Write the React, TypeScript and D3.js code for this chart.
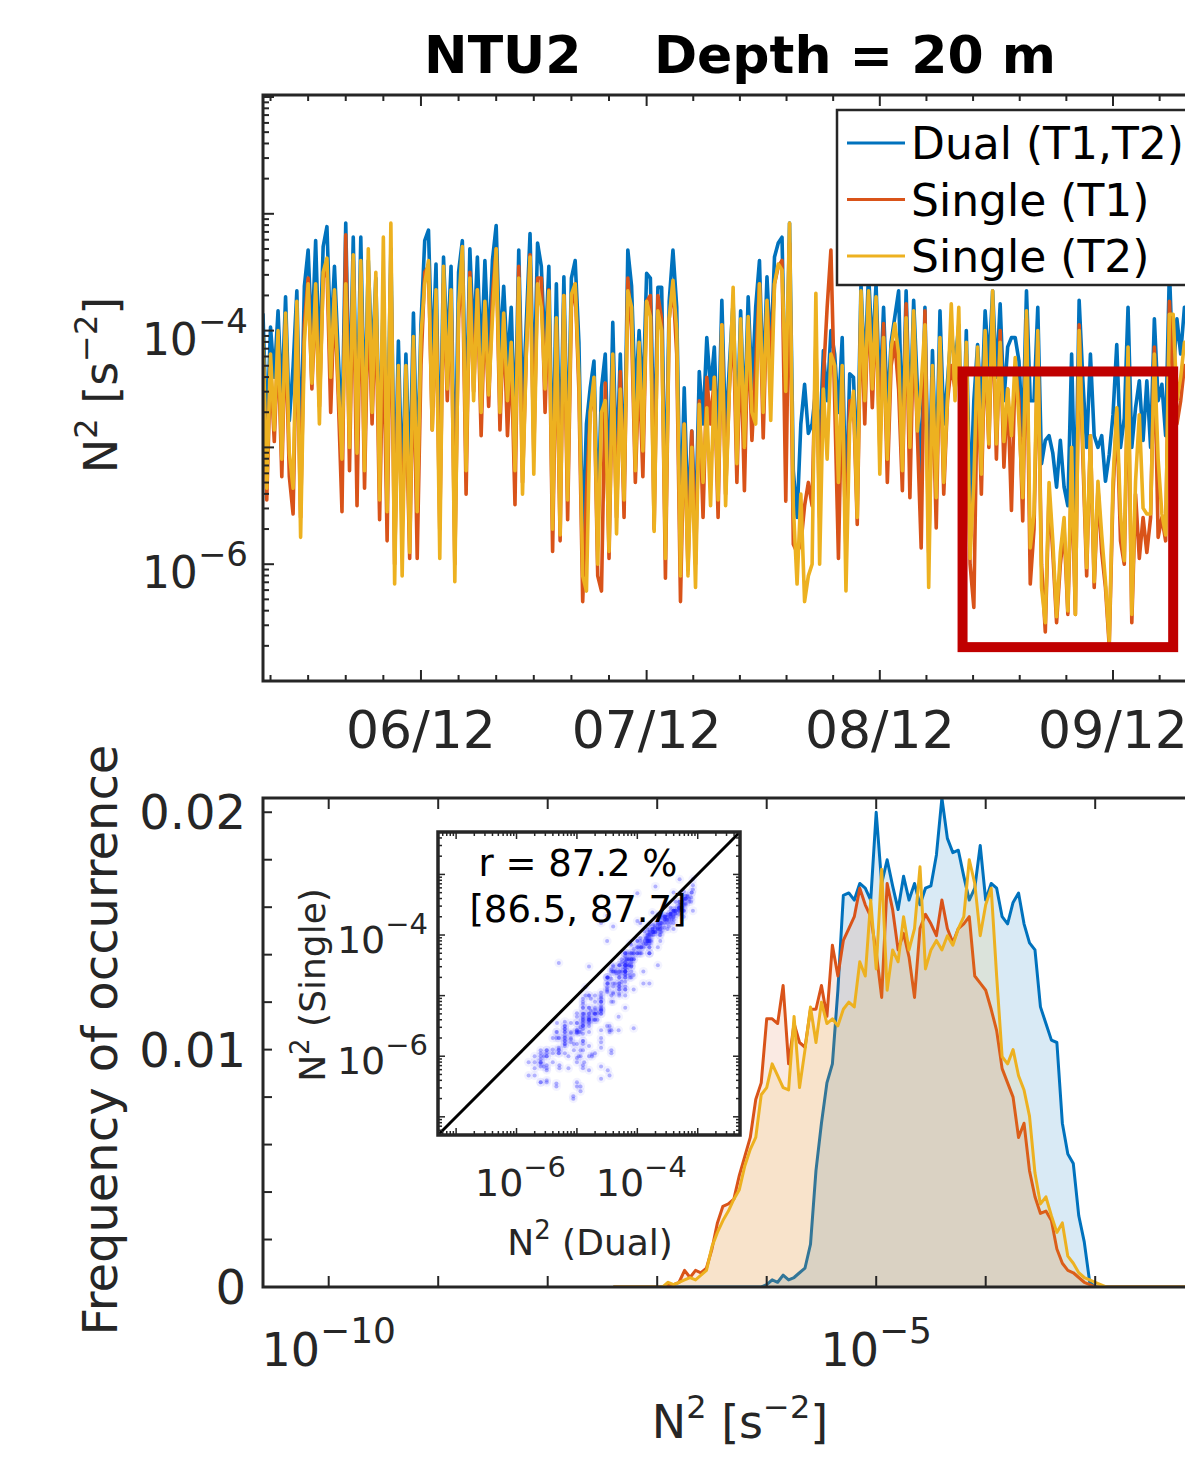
import React from 'react';
import * as d3 from 'd3';

// N^2 time series at 20 m, log10 values, one sample every 12 h from 22 May
const startTime = new Date(2012, 4, 22);
const endTime = new Date(2012, 9, 5);
const stepHours = 12;

const dualLog = [
  -3.86, -4.9, -3.97, -4.4, -3.83, -4.6, -3.71, -4.77, -4.31, -3.66, -5.1, -3.62, -3.31, -4.1, -3.23, -4.3,
  -3.28, -3.11, -4.1, -3.45, -4.2, -4.9, -3.08, -4.7, -3.2, -4.9, -3.2, -4.8, -3.4, -4.3, -3.55, -5.0,
  -3.7, -5.2, -3.3, -5.55, -4.09, -5.4, -4.2, -5.3, -3.85, -5.2, -3.95, -3.23, -3.14, -4.3, -3.43, -5.3,
  -3.37, -4.2, -3.45, -5.5, -3.5, -3.23, -4.8, -3.3, -4.1, -3.37, -4.3, -3.4, -4.2, -3.4, -3.1, -4.2,
  -3.62, -4.3, -3.8, -4.9, -3.31, -4.7, -3.94, -3.17, -4.6, -3.25, -3.45, -4.2, -3.45, -5.3, -3.6, -5.2,
  -3.54, -5.1, -3.55, -3.4, -4.1, -5.8, -4.8, -4.49, -4.26, -5.6, -4.49, -4.2, -5.4, -3.93, -5.2, -4.2,
  -5.33, -3.31, -3.62, -4.6, -4.0, -4.6, -3.51, -3.55, -5.1, -3.63, -3.63, -5.6, -3.75, -3.31, -3.8, -5.7,
  -4.49, -5.6, -4.86, -5.7, -4.35, -4.8, -4.06, -4.5, -4.14, -5.0, -3.74, -4.9, -4.3, -3.75, -4.9, -3.83,
  -4.8, -3.71, -4.5, -3.8, -3.4, -4.5, -3.54, -4.2, -3.37, -3.25, -3.2, -4.8, -3.08, -5.2, -5.6, -4.8,
  -4.46, -4.88, -4.8, -4.5, -4.97, -4.17, -4.6, -4.0, -4.2, -4.7, -4.06, -5.5, -4.37, -4.4, -5.2, -3.6,
  -4.4, -3.5, -4.2, -3.6, -4.6, -3.8, -4.7, -4.1, -3.88, -3.66, -4.9, -3.66, -4.8, -3.74, -4.5, -5.3,
  -3.8, -5.5, -4.17, -5.2, -3.83, -4.8, -4.43, -4.0, -4.29, -3.95, -5.2, -4.0, -5.5, -4.6, -4.12, -4.7,
  -3.83, -4.3, -3.66, -4.4, -3.77, -4.6, -4.14, -4.06, -4.06, -4.26, -4.9, -3.66, -4.6, -4.6, -3.8, -5.14,
  -4.94, -4.9, -5.05, -5.34, -4.94, -5.34, -5.5, -4.2, -5.6, -3.74, -4.43, -5.0, -4.2, -4.9, -5.0, -4.9,
  -5.29, -5.06, -4.72, -4.12, -5.0, -4.75, -3.8, -5.0, -4.66, -4.43, -4.94, -4.43, -5.0, -3.9, -4.6, -4.46,
  -4.9, -3.48, -4.4, -3.9, -4.2, -3.8,
];

const singleT1Log = [
  -4.15, -5.45, -4.3, -4.95, -4.1, -5.25, -3.95, -5.25, -5.57, -3.9, -5.6, -3.95, -3.55, -4.5, -3.7, -4.65,
  -3.55, -3.45, -4.7, -3.7, -4.55, -5.55, -3.18, -5.2, -3.4, -5.5, -3.5, -5.35, -3.7, -4.8, -3.75, -5.62,
  -3.95, -5.8, -3.45, -6.0, -4.4, -5.7, -4.6, -5.95, -4.15, -5.95, -4.3, -3.5, -3.45, -4.85, -3.75, -5.7,
  -3.6, -4.6, -3.7, -6.0, -3.9, -3.4, -5.4, -3.5, -4.52, -3.65, -4.9, -3.8, -4.65, -3.7, -3.3, -4.85,
  -3.9, -4.9, -4.2, -5.49, -3.45, -5.3, -4.2, -3.35, -5.05, -3.55, -3.55, -4.7, -3.65, -5.89, -3.95, -5.8,
  -3.7, -5.62, -3.8, -3.6, -4.52, -6.32, -5.4, -4.7, -4.45, -6.1, -6.23, -4.45, -5.95, -4.3, -5.6, -4.35,
  -5.6, -3.55, -4.0, -5.3, -4.3, -5.25, -3.75, -3.7, -5.7, -3.7, -3.9, -6.12, -3.9, -3.6, -4.2, -6.32,
  -4.8, -6.05, -4.86, -6.0, -4.6, -5.6, -4.4, -4.8, -4.4, -5.6, -3.95, -5.4, -4.5, -3.9, -5.3, -4.1,
  -5.37, -3.95, -4.94, -4.3, -3.6, -4.92, -3.75, -4.3, -3.6, -3.45, -3.4, -5.46, -3.25, -5.83, -5.9, -5.83,
  -5.5, -5.3, -5.5, -4.1, -5.6, -4.4, -3.8, -3.31, -4.6, -5.95, -4.4, -5.9, -4.6, -4.6, -5.66, -3.8,
  -4.8, -3.7, -4.66, -3.8, -5.0, -3.94, -5.3, -4.3, -4.1, -4.5, -5.37, -3.77, -5.43, -3.95, -4.9, -5.86,
  -3.83, -5.9, -4.4, -5.69, -4.1, -5.4, -4.6, -4.3, -4.5, -4.1, -5.7, -4.2, -6.0, -6.37, -4.3, -5.4,
  -4.1, -5.0, -3.8, -5.1, -4.0, -5.17, -4.5, -5.54, -4.3, -4.6, -5.63, -3.9, -6.17, -5.7, -4.1, -6.0,
  -6.58, -5.4, -5.9, -6.5, -6.0, -5.7, -6.43, -5.2, -6.43, -3.95, -5.1, -6.1, -4.9, -6.2, -5.35, -5.9,
  -6.2, -6.7, -5.4, -4.7, -5.8, -6.0, -4.3, -6.5, -5.4, -5.95, -5.6, -5.9, -5.6, -4.14, -5.77, -5.6,
  -5.8, -3.75, -4.5, -4.8, -4.6, -4.3,
];

const singleT2Log = [
  -4.05, -5.35, -4.2, -4.85, -4.0, -5.1, -3.85, -5.05, -5.35, -3.75, -5.77, -4.1, -3.6, -4.45, -3.6, -4.8,
  -3.5, -3.38, -4.4, -3.65, -4.45, -5.1, -3.6, -5.0, -3.35, -5.05, -3.4, -5.2, -3.3, -4.7, -3.5, -5.45,
  -3.2, -5.55, -3.08, -6.17, -4.3, -6.1, -4.3, -5.9, -4.05, -5.55, -4.05, -3.6, -3.4, -4.85, -3.65, -5.95,
  -3.45, -4.5, -3.65, -6.15, -3.8, -3.28, -5.2, -3.55, -4.6, -3.65, -4.7, -3.75, -4.55, -3.9, -3.3, -4.7,
  -3.85, -4.6, -4.1, -5.2, -3.55, -5.4, -4.2, -3.37, -5.23, -3.6, -3.8, -4.5, -3.66, -5.7, -3.89, -5.75,
  -3.7, -5.45, -3.69, -3.6, -4.4, -6.1, -6.23, -4.7, -4.4, -6.0, -4.7, -4.6, -5.89, -4.2, -5.74, -4.5,
  -5.45, -3.66, -3.8, -5.2, -4.1, -5.03, -3.75, -3.88, -5.72, -3.83, -4.0, -5.95, -3.9, -3.57, -4.0, -6.1,
  -4.8, -6.1, -5.0, -6.2, -4.63, -5.3, -4.66, -5.5, -4.4, -5.45, -3.95, -5.5, -4.5, -3.63, -5.14, -3.9,
  -5.0, -3.88, -4.7, -4.8, -3.6, -4.7, -3.74, -4.77, -3.6, -3.43, -3.48, -4.52, -3.08, -5.5, -6.17, -5.4,
  -6.32, -6.1, -6.0, -3.68, -6.0, -4.5, -5.1, -4.2, -4.3, -5.3, -4.3, -6.23, -4.8, -4.52, -5.6, -3.66,
  -4.6, -3.66, -4.5, -3.71, -5.23, -4.06, -5.1, -4.16, -3.94, -4.2, -5.2, -3.89, -5.0, -3.83, -4.86, -4.46,
  -3.95, -6.2, -4.3, -5.43, -4.06, -5.3, -4.57, -3.77, -4.6, -3.8, -5.5, -4.1, -5.95, -5.3, -4.14, -5.23,
  -4.0, -4.97, -3.66, -4.97, -4.1, -4.95, -4.5, -4.9, -4.23, -4.77, -5.43, -3.83, -5.86, -5.57, -4.0, -6.2,
  -6.5, -5.3, -5.8, -6.45, -5.9, -5.6, -6.4, -5.0, -6.43, -4.0, -5.0, -6.03, -4.9, -6.15, -5.29, -5.75,
  -6.15, -6.66, -5.29, -4.66, -5.57, -5.97, -4.14, -6.43, -5.29, -4.72, -5.52, -5.57, -5.57, -4.2, -5.1, -5.57,
  -5.75, -3.86, -3.86, -4.6, -4.4, -4.1,
];

const monthTicks = ['2012-06-12', '2012-07-12', '2012-08-12', '2012-09-12'];

// highlighted period (red box) and its N^2 range
const highlightDates = ['2012-08-23', '2012-09-20'];
const highlightLog = [-6.71, -4.35];

// histograms: frequency of occurrence per log10(N^2) bin, bins centred from -7.4 in steps of 0.05
const histStart = -7.4;
const histStep = 0.05;

const histDual = [
  0, 0, 0, 0, 0, 0, 0, 0, 0, 0, 0, 0, 0, 0, 0, 0, 0, 0, 0, 0, 0, 0, 0, 0, 0, 0, 0, 0,
  0.0001, 0.0003, 0.0002, 0.0005, 0.0003, 0.0004, 0.0006, 0.0008, 0.0018, 0.0049, 0.0069, 0.0086,
  0.0094, 0.0125, 0.0165, 0.0166, 0.0163, 0.0170, 0.0168, 0.0163, 0.0200, 0.0170, 0.0180, 0.0169,
  0.0159, 0.0173, 0.0163, 0.0170, 0.0161, 0.0168, 0.0169, 0.0182, 0.0206, 0.0189, 0.0183, 0.0184,
  0.0173, 0.0163, 0.0168, 0.0186, 0.0163, 0.0170, 0.0168, 0.0156, 0.0153, 0.0162, 0.0166, 0.0153,
  0.0145, 0.0142, 0.0118, 0.0111, 0.0104, 0.0103, 0.0069, 0.0056, 0.0052, 0.0030, 0.0019, 0.0002,
  0, 0, 0, 0, 0, 0, 0, 0, 0, 0, 0, 0, 0, 0, 0, 0, 0, 0, 0, 0, 0,
];

const histT1 = [
  0, 0, 0, 0, 0, 0, 0, 0, 0, 0,
  0.0001, 0.0001, 0.0002, 0.0007, 0.0004, 0.0007, 0.0006, 0.0008, 0.0016, 0.0027, 0.0034, 0.0035,
  0.0037, 0.0047, 0.0055, 0.0063, 0.0079, 0.0086, 0.0113, 0.0113, 0.0111, 0.0127, 0.0094, 0.0111,
  0.0103, 0.0101, 0.0117, 0.0117, 0.0127, 0.0114, 0.0144, 0.0131, 0.0146, 0.0151, 0.0156, 0.0168,
  0.0161, 0.0156, 0.0141, 0.0122, 0.0170, 0.0159, 0.0142, 0.0149, 0.0139, 0.0122, 0.0151, 0.0157,
  0.0153, 0.0148, 0.0163, 0.0151, 0.0145, 0.0151, 0.0153, 0.0156, 0.0131, 0.0128, 0.0125, 0.0117,
  0.0108, 0.0092, 0.0086, 0.0080, 0.0063, 0.0069, 0.0049, 0.0038, 0.0031, 0.0032, 0.0028, 0.0016,
  0.0010, 0.0007, 0.0006, 0.0004, 0.0002, 0.0001,
  0, 0, 0, 0, 0, 0, 0, 0, 0, 0, 0, 0, 0, 0, 0, 0, 0, 0, 0, 0, 0,
];

const histT2 = [
  0, 0, 0, 0, 0, 0, 0, 0, 0, 0,
  0.0002, 0.0001, 0.0002, 0.0003, 0.0004, 0.0003, 0.0005, 0.0007, 0.0017, 0.0023, 0.0028, 0.0032,
  0.0037, 0.0041, 0.0051, 0.0058, 0.0063, 0.0081, 0.0084, 0.0094, 0.0089, 0.0084, 0.0083, 0.0114,
  0.0084, 0.0100, 0.0118, 0.0103, 0.0120, 0.0111, 0.0113, 0.0110, 0.0117, 0.0120, 0.0118, 0.0137,
  0.0131, 0.0163, 0.0134, 0.0176, 0.0125, 0.0142, 0.0137, 0.0156, 0.0142, 0.0151, 0.0177, 0.0134,
  0.0142, 0.0146, 0.0142, 0.0148, 0.0144, 0.0151, 0.0156, 0.0180, 0.0170, 0.0148, 0.0161, 0.0168,
  0.0131, 0.0097, 0.0094, 0.0100, 0.0089, 0.0083, 0.0072, 0.0048, 0.0035, 0.0038, 0.0030, 0.0023,
  0.0027, 0.0013, 0.0010, 0.0006, 0.0004, 0.0003, 0.0002, 0.0001,
  0, 0, 0, 0, 0, 0, 0, 0, 0, 0, 0, 0, 0, 0, 0, 0, 0, 0, 0,
];

const seriesNames = ['Dual (T1,T2)', 'Single (T1)', 'Single (T2)'];
const seriesColors = ['#0072BD', '#D95319', '#EDB120'];
const corrLines = ['r = 87.2 %', '[86.5, 87.7]'];

const ink = '#262626';
const font = 'DejaVu Sans, sans-serif';

const Pow = ({ base, exp, x, y, size, supSize, anchor = 'middle' }: any) => (
  <text x={x} y={y} fontSize={size} textAnchor={anchor} fill={ink}>
    <tspan>{base}</tspan>
    <tspan dy={-size * 0.5} fontSize={supSize}>{exp}</tspan>
  </text>
);

export default function App() {
  const parse = d3.timeParse('%Y-%m-%d');
  const times = dualLog.map((_, i) => d3.timeHour.offset(startTime, i * stepHours));

  // ---- top panel scales
  const xT = d3.scaleTime().domain([startTime, endTime]).range([263, 1286]);
  const yT = d3.scaleLog().domain([1e-7, 1e-2]).range([681, 97]);
  const tsLine = d3.line<number>()
    .x((_, i) => xT(times[i]))
    .y(v => yT(Math.pow(10, v)));

  const majors = monthTicks.map(s => parse(s) as Date);
  const minors: Date[] = [];
  [1, 2, 3, 4].forEach(j => minors.push(d3.timeDay.offset(majors[0], -5 * j)));
  [1, 2, 3, 4, 5].forEach(j => minors.push(d3.timeDay.offset(majors[0], 5 * j)));
  for (let m = 1; m < majors.length; m++) {
    const a = +majors[m];
    const b = m + 1 < majors.length ? +majors[m + 1] : a + (a - +majors[m - 1]);
    [1, 2, 3, 4].forEach(j => minors.push(new Date(a + (b - a) * j / 5)));
    if (m === majors.length - 1) minors.push(new Date(b));
  }

  const yMajor = d3.range(-7, -1).map(n => Math.pow(10, n));
  const yMinor: number[] = [];
  d3.range(-7, -2).forEach(n => d3.range(2, 10).forEach(k => yMinor.push(k * Math.pow(10, n))));

  const hl0 = parse(highlightDates[0]) as Date;
  const hl1 = parse(highlightDates[1]) as Date;

  // ---- bottom panel scales
  const xH = d3.scaleLog().domain([Math.pow(10, -10.6), Math.pow(10, -1.6)]).range([263, 1248.5]);
  const yH = d3.scaleLinear().domain([0, 0.0206]).range([1287, 798]);
  const binX = (k: number) => xH(Math.pow(10, histStart + k * histStep));
  const histArea = d3.area<number>().x((_, k) => binX(k)).y0(yH(0)).y1(v => yH(v));
  const histLine = d3.line<number>().x((_, k) => binX(k)).y(v => yH(v));
  const hists = [histDual, histT1, histT2];
  const fillOpacity = [0.15, 0.12, 0.12];

  // ---- inset scales (log-log scatter of single vs dual)
  const xI = d3.scaleLog().domain([Math.pow(10, -7.3), Math.pow(10, -2.3)]).range([438, 740]);
  const yI = d3.scaleLog().domain([Math.pow(10, -7.3), Math.pow(10, -2.3)]).range([1135, 832]);
  const pairs: [number, number][] = [];
  dualLog.forEach((d, i) => {
    pairs.push([d, singleT1Log[i]]);
    pairs.push([d, singleT2Log[i]]);
  });
  const insetMajor = d3.range(-7, -2).map(n => Math.pow(10, n));
  const insetMinor: number[] = [];
  d3.range(-8, -2).forEach(n => d3.range(2, 10).forEach(k => {
    const v = k * Math.pow(10, n);
    if (v > Math.pow(10, -7.3) && v < Math.pow(10, -2.3)) insetMinor.push(v);
  }));
  const lo = Math.pow(10, -7.3), hi = Math.pow(10, -2.3);

  return (
    <svg width={1185} height={1457} style={{ position: 'absolute', left: 0, top: 0, background: '#fff' }}
      fontFamily={font}>
      <defs>
        <clipPath id="clipTop"><rect x={263} y={95} width={1100} height={586} /></clipPath>
        <clipPath id="clipBottom"><rect x={263} y={798} width={1100} height={489} /></clipPath>
        <clipPath id="clipInset"><rect x={438} y={832} width={302} height={303} /></clipPath>
      </defs>

      {/* title */}
      <text x={740} y={73} textAnchor="middle" fontSize={52} fontWeight="bold" fill="#000"
        style={{ whiteSpace: 'pre' }}>{'NTU2    Depth = 20 m'}</text>

      {/* ===== top panel ===== */}
      <g clipPath="url(#clipTop)">
        {[dualLog, singleT1Log, singleT2Log].map((s, j) => (
          <path key={j} d={tsLine(s) || ''} fill="none" stroke={seriesColors[j]} strokeWidth={3.6}
            strokeLinejoin="round" strokeLinecap="round" />
        ))}
      </g>
      <rect x={xT(hl0)} y={yT(Math.pow(10, highlightLog[1]))} width={xT(hl1) - xT(hl0)}
        height={yT(Math.pow(10, highlightLog[0])) - yT(Math.pow(10, highlightLog[1]))}
        fill="none" stroke="#C00000" strokeWidth={10} />

      <g stroke={ink} strokeWidth={2}>
        {majors.map((d, i) => (
          <g key={'mx' + i}>
            <line x1={xT(d)} x2={xT(d)} y1={681} y2={670} />
            <line x1={xT(d)} x2={xT(d)} y1={95} y2={106} />
          </g>
        ))}
        {minors.map((d, i) => (
          <g key={'nx' + i}>
            <line x1={xT(d)} x2={xT(d)} y1={681} y2={675} />
            <line x1={xT(d)} x2={xT(d)} y1={95} y2={101} />
          </g>
        ))}
        {yMajor.map((v, i) => <line key={'my' + i} x1={263} x2={274} y1={yT(v)} y2={yT(v)} />)}
        {yMinor.map((v, i) => <line key={'ny' + i} x1={263} x2={269} y1={yT(v)} y2={yT(v)} />)}
      </g>
      <rect x={263} y={95} width={1100} height={586} fill="none" stroke={ink} strokeWidth={3} />

      {majors.map((d, i) => (
        <text key={'lx' + i} x={xT(d)} y={748} textAnchor="middle" fontSize={52} fill={ink}>
          {d3.timeFormat('%m/%d')(d)}
        </text>
      ))}
      {[-4, -6].map(n => (
        <Pow key={n} base="10" exp={'\u2212' + Math.abs(n)} x={248} y={yT(Math.pow(10, n)) + 24}
          size={44} supSize={34} anchor="end" />
      ))}
      <text transform="translate(117,385) rotate(-90)" textAnchor="middle" fontSize={46} fill={ink}>
        <tspan>N</tspan><tspan dy={-20} fontSize={32}>2</tspan>
        <tspan dy={20}>{' [s'}</tspan><tspan dy={-20} fontSize={32}>{'\u22122'}</tspan>
        <tspan dy={20}>]</tspan>
      </text>

      {/* legend */}
      <rect x={837} y={110} width={400} height={175} fill="#fff" stroke={ink} strokeWidth={2.5} />
      {seriesNames.map((name, j) => (
        <g key={name}>
          <line x1={847} x2={905} y1={143 + j * 56.5} y2={143 + j * 56.5} stroke={seriesColors[j]} strokeWidth={3} />
          <text x={911} y={159 + j * 56.5} fontSize={44} fill="#000">{name}</text>
        </g>
      ))}

      {/* ===== bottom panel ===== */}
      <g clipPath="url(#clipBottom)">
        {hists.map((h, j) => (
          <g key={'h' + j}>
            <path d={histArea(h) || ''} fill={seriesColors[j]} fillOpacity={fillOpacity[j]} stroke="none" />
            <path d={histLine(h) || ''} fill="none" stroke={seriesColors[j]} strokeWidth={3}
              strokeLinejoin="round" />
          </g>
        ))}
      </g>
      <g stroke={ink} strokeWidth={2}>
        {d3.range(-10, -1).map(n => (
          <g key={'hx' + n}>
            <line x1={xH(Math.pow(10, n))} x2={xH(Math.pow(10, n))} y1={1287} y2={1276} />
            <line x1={xH(Math.pow(10, n))} x2={xH(Math.pow(10, n))} y1={798} y2={809} />
          </g>
        ))}
        {d3.range(0, 0.0207, 0.002).map((v, i) => (
          <line key={'hy' + i} x1={263} x2={272} y1={yH(v)} y2={yH(v)} />
        ))}
      </g>
      <rect x={263} y={798} width={1100} height={489} fill="none" stroke={ink} strokeWidth={3} />

      {[0, 0.01, 0.02].map(v => (
        <text key={'ly' + v} x={246} y={yH(v) + 17} textAnchor="end" fontSize={48} fill={ink}>
          {v === 0 ? '0' : d3.format('.2f')(v)}
        </text>
      ))}
      {[-10, -5].map(n => (
        <Pow key={'lxh' + n} base="10" exp={'\u2212' + Math.abs(n)} x={xH(Math.pow(10, n))} y={1366}
          size={46} supSize={36} />
      ))}
      <text x={740} y={1438} textAnchor="middle" fontSize={46} fill={ink}>
        <tspan>N</tspan><tspan dy={-20} fontSize={32}>2</tspan>
        <tspan dy={20}>{' [s'}</tspan><tspan dy={-20} fontSize={32}>{'\u22122'}</tspan>
        <tspan dy={20}>]</tspan>
      </text>
      <text transform="translate(117,1040) rotate(-90)" textAnchor="middle" fontSize={48} fill={ink}>
        Frequency of occurrence
      </text>

      {/* ===== inset ===== */}
      <rect x={438} y={832} width={302} height={303} fill="#fff" />
      <g clipPath="url(#clipInset)">
        {pairs.map((p, i) => (
          <circle key={'h' + i} cx={xI(Math.pow(10, p[0]))} cy={yI(Math.pow(10, p[1]))} r={4.5}
            fill="#6a6aff" fillOpacity={0.08} />
        ))}
        {pairs.map((p, i) => (
          <circle key={'s' + i} cx={xI(Math.pow(10, p[0]))} cy={yI(Math.pow(10, p[1]))} r={2}
            fill="#1e1eff" fillOpacity={0.3} />
        ))}
        <line x1={xI(lo)} y1={yI(lo)} x2={xI(hi)} y2={yI(hi)} stroke="#000" strokeWidth={3} />
      </g>
      <g stroke={ink} strokeWidth={1.5}>
        {insetMajor.map((v, i) => (
          <g key={'im' + i}>
            <line x1={xI(v)} x2={xI(v)} y1={1135} y2={1128} />
            <line x1={xI(v)} x2={xI(v)} y1={832} y2={839} />
            <line x1={438} x2={445} y1={yI(v)} y2={yI(v)} />
            <line x1={740} x2={733} y1={yI(v)} y2={yI(v)} />
          </g>
        ))}
        {insetMinor.map((v, i) => (
          <g key={'in' + i}>
            <line x1={xI(v)} x2={xI(v)} y1={1135} y2={1131} />
            <line x1={xI(v)} x2={xI(v)} y1={832} y2={836} />
            <line x1={438} x2={442} y1={yI(v)} y2={yI(v)} />
            <line x1={740} x2={736} y1={yI(v)} y2={yI(v)} />
          </g>
        ))}
      </g>
      <rect x={438} y={832} width={302} height={303} fill="none" stroke={ink} strokeWidth={3.5} />
      {corrLines.map((t, i) => (
        <text key={t} x={578} y={876 + i * 46} textAnchor="middle" fontSize={37} fill="#000">{t}</text>
      ))}
      {[-6, -4].map(n => (
        <Pow key={'ix' + n} base="10" exp={'\u2212' + Math.abs(n)} x={xI(Math.pow(10, n)) + 4} y={1196}
          size={38} supSize={29} />
      ))}
      {[-6, -4].map(n => (
        <Pow key={'iy' + n} base="10" exp={'\u2212' + Math.abs(n)} x={428} y={yI(Math.pow(10, n)) + 18}
          size={38} supSize={29} anchor="end" />
      ))}
      <text x={590} y={1255} textAnchor="middle" fontSize={36} fill={ink}>
        <tspan>N</tspan><tspan dy={-16} fontSize={26}>2</tspan><tspan dy={16}>{' (Dual)'}</tspan>
      </text>
      <text transform="translate(325,985) rotate(-90)" textAnchor="middle" fontSize={36} fill={ink}>
        <tspan>N</tspan><tspan dy={-16} fontSize={26}>2</tspan><tspan dy={16}>{' (Single)'}</tspan>
      </text>
    </svg>
  );
}
